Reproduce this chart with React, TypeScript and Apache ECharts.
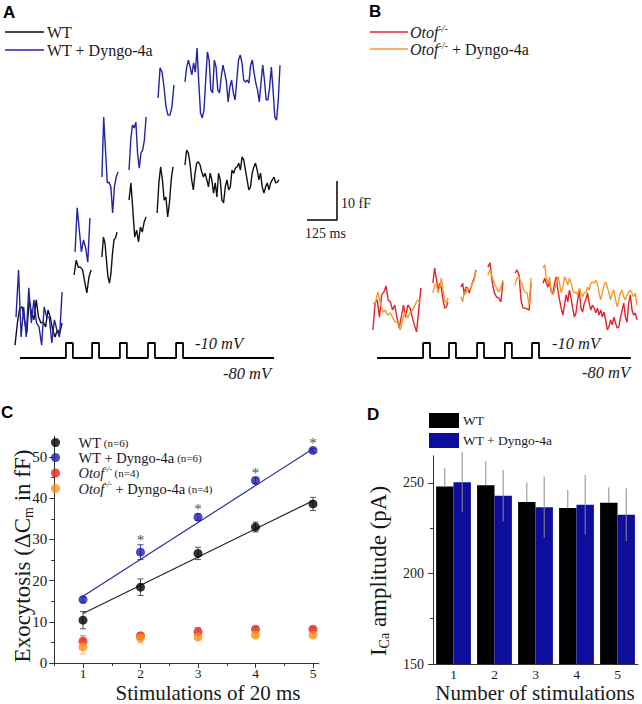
import React, { useEffect, useRef } from 'react';
import * as echarts from 'echarts';

const SERIF = "'Liberation Serif', 'Times New Roman', serif";
const SANS = "'Liberation Sans', Arial, sans-serif";

// ---------- Panel A / B traces: time (ms) and capacitance (fF) ----------
const A_WT = [
  { t0: 21, t1: 217, v: [3.8, 9.5, 13.3, 13.6, 10.3, 6.9, 15.4, 12.1, 10.3, 15.4, 11.0, 9.5, 9.7, 8.5, 12.8, 11.0, 7.7, 5.9, 7.7, 6.9, 9.5] },
  { t0: 267, t1: 338, v: [21.8, 25.6, 23.8, 23.8, 23.1, 20.0, 17.2, 21.3, 23.1] },
  { t0: 383, t1: 446, v: [26.4, 31.5, 30.0, 25.6, 21.3, 19.7, 22.3, 27.4, 30.8, 31.3, 32.8] },
  { t0: 496, t1: 567, v: [41.0, 45.4, 38.5, 31.5, 33.3, 30.3, 34.1, 32.8, 35.4, 36.7] },
  { t0: 613, t1: 679, v: [37.7, 45.4, 49.5, 46.2, 41.0, 41.8, 36.7, 40.3, 46.2, 49.5] },
  { t0: 729, t1: 1121, v: [50.0, 53.8, 53.1, 50.5, 46.2, 43.6, 47.9, 50.5, 50.8, 50.0, 48.2, 46.9, 47.9, 46.2, 44.4, 47.9, 46.2, 42.8, 45.4, 41.8, 47.9, 46.2, 41.0, 40.3, 44.4, 46.2, 43.6, 44.4, 48.7, 47.9, 49.2, 49.5, 50.5, 48.7, 52.1, 51.3, 48.7, 46.2, 43.6, 44.4, 47.9, 49.5, 50.5, 48.7, 46.2, 47.9, 44.4, 42.8, 44.4, 45.4, 43.6, 45.4, 46.2, 46.9, 45.4, 45.6, 46.2] },
];
const A_DYN = [
  { t0: 25, t1: 217, v: [11.0, 23.1, 5.9, 13.6, 5.9, 18.5, 9.5, 15.4, 9.5, 8.5, 3.8, 13.6, 11.0, 11.0, 4.4, 10.3, 7.7, 5.9, 17.4] },
  { t0: 271, t1: 333, v: [27.7, 39.0, 33.3, 27.7, 30.8, 28.7, 25.1, 36.4] },
  { t0: 383, t1: 450, v: [46.9, 62.3, 53.8, 45.4, 45.6, 44.4, 37.7, 44.4, 46.9, 48.2] },
  { t0: 496, t1: 567, v: [48.7, 56.4, 60.3, 59.5, 61.0, 53.1, 49.2, 53.1, 53.8, 56.4, 62.3] },
  { t0: 617, t1: 683, v: [67.2, 74.9, 73.8, 70.0, 64.9, 62.8, 62.8, 64.9, 70.5] },
  { t0: 729, t1: 1125, v: [71.3, 75.1, 76.9, 75.1, 73.1, 76.2, 73.8, 80.0, 71.0, 63.3, 62.1, 64.1, 71.8, 79.0, 76.9, 69.2, 68.5, 76.9, 75.1, 69.2, 68.5, 72.6, 75.6, 73.6, 71.3, 66.2, 70.0, 71.8, 68.5, 66.7, 71.8, 76.9, 78.2, 76.2, 71.8, 71.3, 71.8, 71.0, 75.6, 76.9, 73.6, 71.0, 69.2, 66.2, 71.0, 75.6, 71.8, 66.7, 66.7, 70.0, 75.1, 69.2, 62.3, 61.5, 66.7, 75.6] },
];
const B_OTOF = [
  { t0: 33, t1: 233, v: [7.7, 14.6, 15.4, 11.0, 16.7, 17.4, 19.0, 15.4, 14.9, 12.8, 14.1, 11.0, 8.2, 11.0, 14.1, 11.0, 14.1, 13.3, 11.0, 9.0, 7.2, 12.8, 18.5] },
  { t0: 283, t1: 346, v: [19.7, 23.6, 21.0, 17.9, 19.7, 18.5, 15.4, 13.3, 13.6, 14.9] },
  { t0: 400, t1: 462, v: [18.7, 19.7, 16.7, 18.7, 18.5, 17.2, 18.5, 20.0, 21.0, 23.1] },
  { t0: 512, t1: 575, v: [23.8, 24.9, 20.0, 17.2, 16.2, 15.9, 14.9, 20.0] },
  { t0: 625, t1: 692, v: [22.3, 23.1, 21.8, 15.4, 13.3, 13.3, 13.1, 12.8, 19.7] },
  { t0: 742, t1: 1133, v: [19.7, 21.0, 19.7, 18.7, 20.0, 17.4, 17.2, 19.7, 21.3, 17.9, 15.4, 13.3, 11.5, 14.1, 16.7, 14.9, 17.9, 15.9, 13.3, 11.0, 12.1, 15.4, 17.9, 13.3, 12.3, 14.6, 15.4, 17.2, 14.6, 12.8, 14.1, 13.3, 12.1, 13.3, 11.5, 12.8, 11.0, 12.3, 10.3, 7.7, 8.5, 10.3, 9.0, 11.0, 9.5, 8.2, 8.5, 10.8, 12.8, 14.6, 11.0, 9.7, 14.6, 16.7, 12.8, 11.5, 12.1, 10.3] },
];
const B_DYN = [
  { t0: 33, t1: 229, v: [14.6, 14.6, 17.4, 14.6, 12.3, 12.8, 11.5, 12.1, 10.8, 9.7, 9.7, 7.7, 10.3, 12.3, 10.8, 12.1, 12.8, 14.1, 15.4, 14.9] },
  { t0: 283, t1: 346, v: [17.2, 19.2, 19.7, 17.2, 18.7, 21.0, 17.9, 15.4, 14.6, 15.9] },
  { t0: 400, t1: 462, v: [16.2, 14.9, 17.4, 17.2, 18.5, 17.9, 18.7, 19.7, 20.5, 22.8] },
  { t0: 512, t1: 575, v: [21.8, 23.1, 21.3, 19.7, 18.5, 17.4, 18.5, 20.5] },
  { t0: 625, t1: 692, v: [19.2, 21.0, 21.3, 20.0, 18.5, 17.4, 17.2, 14.1, 21.0] },
  { t0: 742, t1: 1133, v: [23.6, 24.4, 21.0, 19.7, 21.3, 17.4, 16.7, 17.9, 20.0, 21.3, 19.7, 17.2, 18.7, 21.3, 20.5, 19.2, 21.0, 19.7, 17.9, 17.2, 17.4, 16.7, 18.5, 17.2, 16.2, 17.2, 17.4, 18.7, 17.9, 19.7, 20.0, 19.7, 20.5, 19.7, 17.2, 15.4, 17.2, 19.2, 20.0, 18.7, 17.2, 15.4, 17.2, 17.9, 15.4, 13.6, 15.4, 17.2, 17.9, 16.2, 15.4, 16.7, 17.4, 17.9, 17.2, 16.2, 17.2, 14.1] },
];

// Voltage protocol (ms, mV)
const HOLD_MV = -80;
const STEP_MV = -10;
const PULSE_MS = 29;
const A_PROTOCOL_SPAN = [42, 1100];
const A_PULSE_ONSETS = [233, 342, 458, 575, 692];
const B_PROTOCOL_SPAN = [50, 1108];
const B_PULSE_ONSETS = [242, 350, 467, 583, 696];

// Scale bar
const SCALE_MS = 125;
const SCALE_FF = 10;

// ---------- Panel C ----------
const STIMS = [1, 2, 3, 4, 5];
const C_WT = [10.4, 18.4, 26.6, 33.0, 38.6];
const C_WT_ERR = [2.1, 2.0, 1.5, 1.2, 1.6];
const C_WT_DYN = [15.4, 26.9, 35.4, 44.3, 51.6];
const C_WT_DYN_ERR = [0.6, 1.8, 0.8, 0.7, 0.5];
const C_OTOF = [5.3, 6.6, 7.6, 8.2, 8.2];
const C_OTOF_ERR = [1.3, 0.6, 1.0, 0.5, 0.4];
const C_OTOF_DYN = [3.9, 6.1, 6.3, 6.8, 6.8];
const C_OTOF_DYN_ERR = [1.7, 1.2, 0.5, 0.4, 0.4];
const FIT_X = [1, 5];
const FIT_WT = [12.0, 39.4];
const FIT_WT_DYN = [16.2, 52.0];
const STAR_STIMS = [2, 3, 4, 5];
const C_Y_TICKS = [0, 10, 20, 30, 40, 50];
const C_Y_MINOR = [5, 15, 25, 35, 45];
const C_X_MINOR = [0.5, 1.5, 2.5, 3.5, 4.5];

// ---------- Panel D ----------
const D_CATS = ['1', '2', '3', '4', '5'];
const D_WT = [248.0, 248.7, 239.5, 236.2, 239.1];
const D_WT_ERR = [10.3, 13.5, 10.7, 9.9, 8.5];
const D_DYN = [250.4, 243.0, 236.6, 238.0, 232.5];
const D_DYN_ERR = [16.6, 14.2, 16.9, 16.4, 14.5];
const D_Y_TICKS = [150, 200, 250];
const D_Y_MINOR = [175, 225];

const COL = {
  black: '#111111',
  blueTrace: '#2323a3',
  red: '#e3222b',
  orange: '#f39a2c',
  cBlack: '#000000',
  cBlue: '#1e1eb0',
  cRed: '#e8231f',
  cOrange: '#f7941d',
  dBlue: '#0d0d9e',
  axis: '#333333',
  text: '#1a1a1a',
};

const MS_PER_PX = SCALE_MS / 30;
const PX_PER_FF = 3.9;
const LINE_ICON = 'path://M0 0H40V1.5H0Z';

function traceSeries(name: string, segs: any[], color: string, xi: number, yi: number) {
  return segs.map((s) => ({
    type: 'line',
    name,
    xAxisIndex: xi,
    yAxisIndex: yi,
    symbol: 'none',
    showSymbol: false,
    silent: true,
    data: s.v.map((v: number, i: number) => [s.t0 + (i * (s.t1 - s.t0)) / (s.v.length - 1), v]),
    lineStyle: { color, width: 1.4 },
    itemStyle: { color },
  }));
}

function protocolSeries(span: number[], onsets: number[], xi: number, yi: number) {
  const data: number[][] = [[span[0], HOLD_MV]];
  onsets.forEach((p) => {
    data.push([p, HOLD_MV], [p, STEP_MV], [p + PULSE_MS, STEP_MV], [p + PULSE_MS, HOLD_MV]);
  });
  data.push([span[1], HOLD_MV]);
  return {
    type: 'line',
    xAxisIndex: xi,
    yAxisIndex: yi,
    symbol: 'none',
    silent: true,
    data,
    lineStyle: { color: '#000', width: 1.8 },
  };
}

function errSeriesC(means: number[], errs: number[], color: string) {
  return {
    type: 'custom',
    xAxisIndex: 4,
    yAxisIndex: 4,
    silent: true,
    z: 2,
    data: STIMS.map((x, i) => [x, means[i], errs[i]]),
    encode: { x: 0, y: 1 },
    renderItem: (params: any, api: any) => {
      const x = api.value(0);
      const m = api.value(1);
      const e = api.value(2);
      const hi = api.coord([x, m + e]);
      const lo = api.coord([x, m - e]);
      const cap = 3;
      const st = { stroke: color, lineWidth: 1 };
      return {
        type: 'group',
        children: [
          { type: 'line', shape: { x1: hi[0], y1: hi[1], x2: lo[0], y2: lo[1] }, style: st },
          { type: 'line', shape: { x1: hi[0] - cap, y1: hi[1], x2: hi[0] + cap, y2: hi[1] }, style: st },
          { type: 'line', shape: { x1: lo[0] - cap, y1: lo[1], x2: lo[0] + cap, y2: lo[1] }, style: st },
        ],
      };
    },
  };
}

const D_BAR_W = 17.4;

function errSeriesD(means: number[], errs: number[], side: number, lower: boolean) {
  return {
    type: 'custom',
    xAxisIndex: 6,
    yAxisIndex: 6,
    silent: true,
    z: 5,
    data: means.map((m, i) => [i, m, errs[i]]),
    encode: { x: 0, y: 1 },
    renderItem: (params: any, api: any) => {
      const i = api.value(0);
      const m = api.value(1);
      const e = api.value(2);
      const hi = api.coord([i, m + e]);
      const lo = api.coord([i, lower ? m - e : m]);
      const x = hi[0] + (side * D_BAR_W) / 2;
      return {
        type: 'line',
        shape: { x1: x, y1: hi[1], x2: x, y2: lo[1] },
        style: { stroke: '#8c8c8c', lineWidth: 1 },
      };
    },
  };
}

function txt(text: string, x: number, y: number, opts: any = {}) {
  return {
    type: 'text',
    x,
    y,
    rotation: opts.rotation || 0,
    silent: true,
    style: {
      text,
      fontFamily: opts.fontFamily || SERIF,
      fontSize: opts.fontSize || 15,
      fontStyle: opts.fontStyle || 'normal',
      fontWeight: opts.fontWeight || 'normal',
      fill: opts.fill || COL.text,
      align: opts.align || 'left',
      verticalAlign: opts.verticalAlign || 'middle',
      rich: opts.rich,
    },
  };
}

function buildOption() {
  const aXMax = 340 * MS_PER_PX;
  const bXMax = 277 * MS_PER_PX;
  const traceYMax = 320 / PX_PER_FF;
  const protoMax = STEP_MV + 3 * ((STEP_MV - HOLD_MV) / 15);
  const protoMin = protoMax - 20 * ((STEP_MV - HOLD_MV) / 15);

  const hiddenX = (gi: number, max: number) => ({ type: 'value', gridIndex: gi, min: 0, max, show: false });
  const hiddenY = (gi: number, min: number, max: number) => ({ type: 'value', gridIndex: gi, min, max, show: false });

  const axisLabelStyle = { fontFamily: SERIF, fontSize: 15, color: COL.text };
  const gridBase = { containLabel: false, outerBoundsMode: 'none' };

  // Scale bar corner position (layout)
  const scaleCornerX = 327 * MS_PER_PX;
  const scaleCornerY = 140 / PX_PER_FF;

  const cLegendName: Record<string, string> = {
    cWT: '{a|WT}{n| (n=6)}',
    cWTD: '{a|WT + Dyngo-4a}{n| (n=6)}',
    cO: '{i|Otof}{s|-/-}{n| (n=4)}',
    cOD: '{i|Otof}{s|-/-}{a| + Dyngo-4a}{n| (n=4)}',
  };

  const series: any[] = [
    ...traceSeries('WT', A_WT, COL.black, 0, 0),
    ...traceSeries('WT + Dyngo-4a', A_DYN, COL.blueTrace, 0, 0),
    protocolSeries(A_PROTOCOL_SPAN, A_PULSE_ONSETS, 1, 1),
    {
      type: 'line',
      xAxisIndex: 0,
      yAxisIndex: 0,
      symbol: 'none',
      silent: true,
      data: [
        [scaleCornerX - SCALE_MS, scaleCornerY],
        [scaleCornerX, scaleCornerY],
        [scaleCornerX, scaleCornerY + SCALE_FF],
      ],
      lineStyle: { color: '#000', width: 1.5 },
    },
    ...traceSeries('Otof', B_OTOF, COL.red, 2, 2),
    ...traceSeries('Otof + Dyngo-4a', B_DYN, COL.orange, 2, 2),
    protocolSeries(B_PROTOCOL_SPAN, B_PULSE_ONSETS, 3, 3),

    // Panel C
    {
      type: 'line', xAxisIndex: 4, yAxisIndex: 4, symbol: 'none', silent: true, z: 2,
      data: FIT_X.map((x, i) => [x, FIT_WT[i]]), lineStyle: { color: '#222', width: 1.2 },
    },
    {
      type: 'line', xAxisIndex: 4, yAxisIndex: 4, symbol: 'none', silent: true, z: 2,
      data: FIT_X.map((x, i) => [x, FIT_WT_DYN[i]]), lineStyle: { color: '#2e2e9c', width: 1.2 },
    },
    errSeriesC(C_WT, C_WT_ERR, '#555555'),
    errSeriesC(C_WT_DYN, C_WT_DYN_ERR, '#4040c0'),
    errSeriesC(C_OTOF, C_OTOF_ERR, '#f06a6a'),
    errSeriesC(C_OTOF_DYN, C_OTOF_DYN_ERR, '#f8b66a'),
    { type: 'scatter', name: 'cWT', xAxisIndex: 4, yAxisIndex: 4, symbolSize: 9, z: 3, data: STIMS.map((x, i) => [x, C_WT[i]]), itemStyle: { color: COL.cBlack } },
    { type: 'scatter', name: 'cWTD', xAxisIndex: 4, yAxisIndex: 4, symbolSize: 9, z: 3, data: STIMS.map((x, i) => [x, C_WT_DYN[i]]), itemStyle: { color: COL.cBlue } },
    { type: 'scatter', name: 'cO', xAxisIndex: 4, yAxisIndex: 4, symbolSize: 9, z: 3, data: STIMS.map((x, i) => [x, C_OTOF[i]]), itemStyle: { color: COL.cRed } },
    { type: 'scatter', name: 'cOD', xAxisIndex: 4, yAxisIndex: 4, symbolSize: 9, z: 3, data: STIMS.map((x, i) => [x, C_OTOF_DYN[i]]), itemStyle: { color: COL.cOrange } },
    {
      type: 'scatter', xAxisIndex: 4, yAxisIndex: 4, symbolSize: 1, silent: true, z: 4,
      data: STAR_STIMS.map((x) => [x, C_WT_DYN[x - 1] + C_WT_DYN_ERR[x - 1]]),
      itemStyle: { color: 'rgba(0,0,0,0)' },
      label: { show: true, formatter: '*', position: 'top', distance: -3, fontFamily: SERIF, fontSize: 15, color: '#111' },
    },

    // Panel D
    { type: 'bar', name: 'dWT', xAxisIndex: 6, yAxisIndex: 6, barWidth: D_BAR_W, barGap: '0%', data: D_WT, itemStyle: { color: '#000' } },
    { type: 'bar', name: 'dWTD', xAxisIndex: 6, yAxisIndex: 6, barWidth: D_BAR_W, barGap: '0%', data: D_DYN, itemStyle: { color: COL.dBlue } },
    errSeriesD(D_WT, D_WT_ERR, -1, false),
    errSeriesD(D_DYN, D_DYN_ERR, 1, true),
  ];

  return {
    animation: false,
    backgroundColor: '#ffffff',
    grid: [
      { ...gridBase, left: 10, top: 40, width: 340, height: 320 },
      { ...gridBase, left: 10, top: 340, width: 340, height: 20 },
      { ...gridBase, left: 365, top: 40, width: 277, height: 320 },
      { ...gridBase, left: 365, top: 340, width: 277, height: 20 },
      { ...gridBase, left: 54.25, top: 436.4, width: 264.5, height: 226.6 },
      { ...gridBase, left: 433, top: 455.8, width: 205, height: 208.2 },
    ],
    xAxis: [
      hiddenX(0, aXMax),
      hiddenX(1, aXMax),
      hiddenX(2, bXMax),
      hiddenX(3, bXMax),
      {
        type: 'value', gridIndex: 4, min: 0.5, max: 5.1, position: 'bottom',
        axisLine: { show: true, onZero: false, lineStyle: { color: COL.axis, width: 1 } },
        axisTick: { show: true, length: 5, customValues: STIMS, lineStyle: { color: COL.axis } },
        axisLabel: { show: true, customValues: STIMS, margin: 3, ...axisLabelStyle, fontSize: 13.5 },
        splitLine: { show: false },
      },
      {
        type: 'value', gridIndex: 4, min: 0.5, max: 5.1, position: 'bottom', offset: 0,
        axisLine: { show: false, onZero: false },
        axisTick: { show: true, length: 3, customValues: C_X_MINOR, lineStyle: { color: COL.axis } },
        axisLabel: { show: false },
        splitLine: { show: false },
      },
      {
        type: 'category', gridIndex: 5, data: D_CATS, position: 'bottom',
        axisLine: { show: true, lineStyle: { color: COL.axis, width: 1 } },
        axisTick: { show: false },
        axisLabel: { margin: 3, ...axisLabelStyle, fontSize: 13.5 },
        splitLine: { show: false },
      },
    ],
    yAxis: [
      hiddenY(0, 0, traceYMax),
      hiddenY(1, protoMin, protoMax),
      hiddenY(2, 0, traceYMax),
      hiddenY(3, protoMin, protoMax),
      {
        type: 'value', gridIndex: 4, min: 0, max: 55, position: 'left',
        axisLine: { show: true, onZero: false, lineStyle: { color: COL.axis, width: 1 } },
        axisTick: { show: true, length: 5, customValues: C_Y_TICKS, lineStyle: { color: COL.axis } },
        axisLabel: { show: true, customValues: C_Y_TICKS, margin: 7, ...axisLabelStyle },
        splitLine: { show: false },
      },
      {
        type: 'value', gridIndex: 4, min: 0, max: 55, position: 'left', offset: 0,
        axisLine: { show: false, onZero: false },
        axisTick: { show: true, length: 3, customValues: C_Y_MINOR, lineStyle: { color: COL.axis } },
        axisLabel: { show: false },
        splitLine: { show: false },
      },
      {
        type: 'value', gridIndex: 5, min: 150, max: 265, position: 'left',
        axisLine: { show: true, onZero: false, lineStyle: { color: COL.axis, width: 1 } },
        axisTick: { show: true, length: 5, customValues: D_Y_TICKS, lineStyle: { color: COL.axis } },
        axisLabel: { show: true, customValues: D_Y_TICKS, margin: 9, ...axisLabelStyle, fontSize: 14 },
        splitLine: { show: false },
      },
      {
        type: 'value', gridIndex: 5, min: 150, max: 265, position: 'left', offset: 0,
        axisLine: { show: false, onZero: false },
        axisTick: { show: true, length: 3, customValues: D_Y_MINOR, lineStyle: { color: COL.axis } },
        axisLabel: { show: false },
        splitLine: { show: false },
      },
    ],
    legend: [
      {
        data: ['WT', 'WT + Dyngo-4a'], orient: 'vertical', left: 0, top: 18,
        itemWidth: 39, itemHeight: 14, itemGap: 0, selectedMode: false, icon: LINE_ICON,
        textStyle: { fontFamily: SERIF, fontSize: 16, color: COL.text, lineHeight: 18, padding: [0, 0, 0, -2] },
      },
      {
        data: ['Otof', 'Otof + Dyngo-4a'], orient: 'vertical', left: 365, top: 18,
        itemWidth: 38, itemHeight: 14, itemGap: 0, selectedMode: false, icon: LINE_ICON,
        formatter: (n: string) => (n === 'Otof' ? '{i|Otof}{s|-/-}' : '{i|Otof}{s|-/-}{a| + Dyngo-4a}'),
        textStyle: {
          fontFamily: SERIF, fontSize: 16, color: COL.text, padding: [0, 0, 0, -3],
          rich: {
            i: { fontFamily: SERIF, fontSize: 16, fontStyle: 'italic', lineHeight: 18, color: COL.text },
            s: { fontFamily: SERIF, fontSize: 10, fontStyle: 'italic', lineHeight: 12, verticalAlign: 'top', color: COL.text },
            a: { fontFamily: SERIF, fontSize: 16, lineHeight: 18, color: COL.text },
          },
        },
      },
      {
        data: ['cWT', 'cWTD', 'cO', 'cOD'], orient: 'vertical', left: 46, top: 430,
        itemWidth: 36, itemHeight: 9, itemGap: 0, selectedMode: false,
        formatter: (n: string) => cLegendName[n],
        textStyle: {
          fontFamily: SERIF, fontSize: 14, color: COL.text,
          rich: {
            a: { fontFamily: SERIF, fontSize: 14.5, lineHeight: 16, color: COL.text },
            n: { fontFamily: SERIF, fontSize: 11, lineHeight: 16, color: COL.text },
            i: { fontFamily: SERIF, fontSize: 14.5, fontStyle: 'italic', lineHeight: 16, color: COL.text },
            s: { fontFamily: SERIF, fontSize: 8, fontStyle: 'italic', lineHeight: 9, verticalAlign: 'top', color: COL.text },
          },
        },
      },
      {
        data: ['dWT', 'dWTD'], orient: 'vertical', left: 424, top: 408,
        itemWidth: 30, itemHeight: 15, itemGap: 5, selectedMode: false, icon: 'rect',
        formatter: (n: string) => (n === 'dWT' ? 'WT' : 'WT + Dyngo-4a'),
        textStyle: { fontFamily: SERIF, fontSize: 13.5, color: COL.text, lineHeight: 15, padding: [0, 0, 0, -1] },
      },
    ],
    graphic: [
      txt('A', 3, 4, { fontFamily: SANS, fontWeight: 'bold', fontSize: 17, verticalAlign: 'top', fill: '#000' }),
      txt('B', 369, 3, { fontFamily: SANS, fontWeight: 'bold', fontSize: 17, verticalAlign: 'top', fill: '#000' }),
      txt('C', 1, 404, { fontFamily: SANS, fontWeight: 'bold', fontSize: 17, verticalAlign: 'top', fill: '#000' }),
      txt('D', 367, 406, { fontFamily: SANS, fontWeight: 'bold', fontSize: 17, verticalAlign: 'top', fill: '#000' }),
      txt('-10 mV', 195, 343, { fontStyle: 'italic', fontSize: 16.5 }),
      txt('-80 mV', 223, 373, { fontStyle: 'italic', fontSize: 16.5 }),
      txt('-10 mV', 552, 343, { fontStyle: 'italic', fontSize: 16.5 }),
      txt('-80 mV', 582, 372, { fontStyle: 'italic', fontSize: 16.5 }),
      txt('10 fF', 341, 203, { fontSize: 14 }),
      txt('125 ms', 305, 233, { fontSize: 14 }),
      txt('{a|Exocytosis (\u0394C}{s|m}{a| in fF)}', 22, 556, {
        rotation: Math.PI / 2, align: 'center',
        rich: {
          a: { fontFamily: SERIF, fontSize: 23, lineHeight: 26, fill: COL.text },
          s: { fontFamily: SERIF, fontSize: 14, lineHeight: 12, verticalAlign: 'bottom', fill: COL.text },
        },
      }),
      txt('Stimulations of 20 ms', 208, 692.5, { fontSize: 21, align: 'center' }),
      txt('{a|I}{s|Ca}{a| amplitude (pA)}', 378, 571, {
        rotation: Math.PI / 2, align: 'center',
        rich: {
          a: { fontFamily: SERIF, fontSize: 23, lineHeight: 26, fill: COL.text },
          s: { fontFamily: SERIF, fontSize: 14, lineHeight: 12, verticalAlign: 'bottom', fill: COL.text },
        },
      }),
      txt('Number of stimulations', 535, 692.5, { fontSize: 21, align: 'center' }),
    ],
    series,
  };
}

export default function App() {
  const ref = useRef<HTMLDivElement>(null);
  useEffect(() => {
    if (!ref.current) return;
    const chart = echarts.init(ref.current, null, { renderer: 'svg' });
    chart.setOption(buildOption() as any);
    return () => chart.dispose();
  }, []);
  return (
    <div
      ref={ref}
      style={{ position: 'fixed', left: 0, top: 0, width: 642, height: 704, background: '#fff' }}
    />
  );
}
